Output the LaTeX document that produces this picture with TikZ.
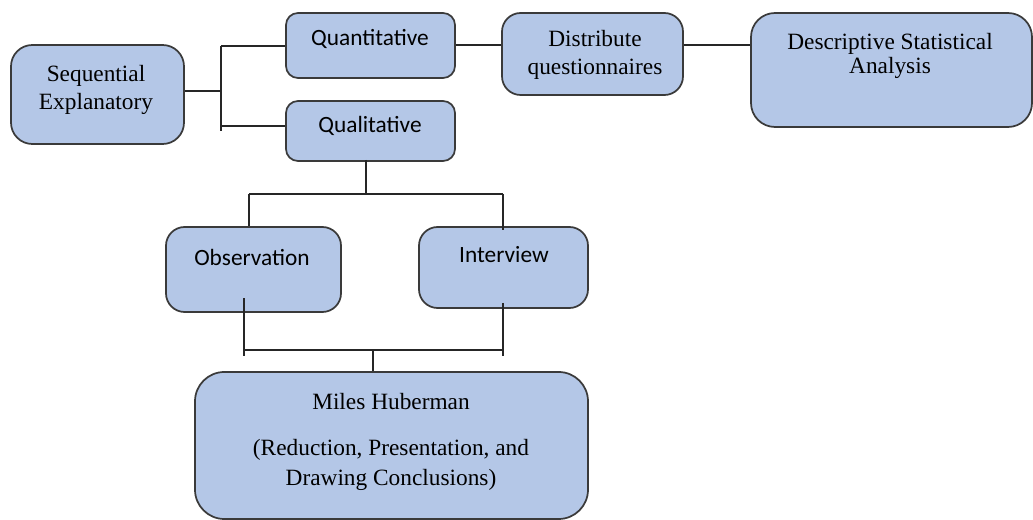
\documentclass[tikz,border=0pt]{standalone}
\usepackage{fontspec}
\setmainfont{Liberation Serif}
\newfontfamily\calib{Carlito}
\definecolor{boxfill}{HTML}{B4C7E7}
\definecolor{boxline}{HTML}{3A3A3A}
\begin{document}
\begin{tikzpicture}[x=0.75pt,y=-0.75pt,
  box/.style={draw=boxline,fill=boxfill,line width=1.3pt,inner sep=0pt},
  serif/.style={font=\fontsize{17.5}{21}\selectfont,align=center,inner sep=0pt},
  sans/.style={font=\calib\fontsize{17.5}{21}\selectfont,align=center,inner sep=0pt},
  conn/.style={draw=black!85,line width=1.3pt}]
\useasboundingbox (0,0) rectangle (1033,520);
% boxes
\node[box,rounded corners=16pt,minimum width=173*0.75pt,minimum height=99*0.75pt] (seq) at (97.5,94.5) {};
\node[box,rounded corners=9pt,minimum width=169*0.75pt,minimum height=65*0.75pt] (quant) at (370.5,45.5) {};
\node[box,rounded corners=9pt,minimum width=169*0.75pt,minimum height=60*0.75pt] (qual) at (370.5,131) {};
\node[box,rounded corners=14pt,minimum width=181*0.75pt,minimum height=82*0.75pt] (dist) at (592.5,54) {};
\node[box,rounded corners=18pt,minimum width=281*0.75pt,minimum height=114*0.75pt] (desc) at (891.5,70) {};
\node[box,rounded corners=14pt,minimum width=175*0.75pt,minimum height=85*0.75pt] (obs) at (253.5,269.5) {};
\node[box,rounded corners=14pt,minimum width=169*0.75pt,minimum height=81*0.75pt] (int) at (503.5,267.5) {};
\node[box,rounded corners=22pt,minimum width=393*0.75pt,minimum height=147*0.75pt] (miles) at (391.5,445.5) {};
% texts
\node[serif,font=\fontsize{17.5}{21.5}\selectfont] (tseq) at (96,90) {Sequential\\Explanatory};
\node[sans] (tquant) at (370,39) {Quantitative};
\node[sans] (tqual) at (370,126) {Qualitative};
\node[serif,font=\fontsize{17.5}{21.5}\selectfont] (tdist) at (595,55) {Distribute\\questionnaires};
\node[serif,font=\fontsize{17.5}{18}\selectfont] (tdesc) at (890,56) {Descriptive Statistical\\Analysis};
\node[sans] (tobs) at (252,257) {Observation};
\node[sans] (tint) at (504,255) {Interview};
\node[serif] (tm1) at (391,402) {Miles Huberman};
\node[serif,font=\fontsize{17.5}{23}\selectfont] (tm2) at (391,465) {(Reduction, Presentation, and\\Drawing Conclusions)};
% junction coordinates
\coordinate (j0) at (0,45);
\coordinate (j1) at (221,91);
\coordinate (j1t) at (221,46);
\coordinate (j1b) at (221,131);
\coordinate (j1q) at (221,126);
\coordinate (j2t) at (366,160);
\coordinate (j2) at (366,194);
\coordinate (j2l) at (249,194);
\coordinate (j2r) at (503,194);
\coordinate (j3l) at (244,350);
\coordinate (j3r) at (503,350);
\coordinate (j3m) at (373,350);
% connectors
\draw[conn] (seq.east |- j1) -- (j1);
\draw[conn] (j1t) -- (j1b);
\draw[conn] (j1t) -- (quant.west |- j1t);
\draw[conn] (j1q) -- (qual.west |- j1q);
\draw[conn] (quant.east |- j0) -- (dist.west |- j0);
\draw[conn] (dist.east |- j0) -- (desc.west |- j0);
\draw[conn] (j2t) -- (j2);
\draw[conn] (j2l) -- (j2r);
\draw[conn] (j2l) -- (obs.north -| j2l);
\draw[conn] (j2r) -- ([yshift=-3pt]int.north -| j2r);
\draw[conn] ([yshift=11pt]obs.south -| j3l) -- ([yshift=-4.5pt]j3l);
\draw[conn] ([yshift=4.5pt]int.south -| j3r) -- ([yshift=-4.5pt]j3r);
\draw[conn] (j3l) -- (j3r);
\draw[conn] (j3m) -- (miles.north -| j3m);
\end{tikzpicture}
\end{document}
